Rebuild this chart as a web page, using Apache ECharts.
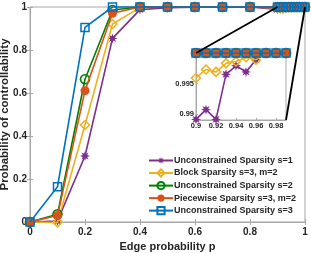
<!DOCTYPE html>
<html><head><meta charset="utf-8">
<script src="https://cdn.jsdelivr.net/npm/echarts@6/dist/echarts.min.js"></script>
<style>html,body{margin:0;padding:0;background:#fff}#c{width:311px;height:253px}</style>
</head><body><div id="c"></div>
<script>
// ---- data ----
const pValues = [0, 0.1, 0.2, 0.3, 0.4, 0.5, 0.6, 0.7, 0.8, 0.9, 0.91, 0.92, 0.93, 0.94, 0.95, 0.96, 0.97, 0.98, 0.99, 1.0];
const unconS1 = [0, 0.005, 0.307, 0.854, 0.988, 0.997, 0.999, 1, 1, 0.9891, 0.9907, 0.9891, 0.9965, 0.9979, 0.9969, 0.9989, 1, 1, 1, 1];
const blockS3 = [0, -0.002, 0.451, 0.921, 0.997, 1, 1, 1, 1, 0.9959, 0.9973, 0.9969, 0.9983, 0.9986, 0.9993, 0.9989, 1, 1, 1, 1];
const unconS2 = [0, 0.036, 0.664, 0.986, 1, 1, 1, 1, 1, 1, 1, 1, 1, 1, 1, 1, 1, 1, 1, 1];
const pieceS3 = [0, 0.03, 0.611, 0.971, 1, 1, 1, 1, 1, 1, 1, 1, 1, 1, 1, 1, 1, 1, 1, 1];
const unconS3 = [0, 0.164, 0.905, 1, 1, 1, 1, 1, 1, 1, 1, 1, 1, 1, 1, 1, 1, 1, 1, 1];
const seriesNames = ['Unconstrained Sparsity s=1', 'Block Sparsity s=3, m=2', 'Unconstrained Sparsity s=2', 'Piecewise Sparsity s=3, m=2', 'Unconstrained Sparsity s=3'];
const mainTicks = [0, 0.2, 0.4, 0.6, 0.8, 1];
const insetXTicks = [0.9, 0.92, 0.94, 0.96, 0.98];
const insetYTicks = [0.99, 0.995];
const insetRange = {xmin: 0.9, xmax: 0.99, ymin: 0.989, ymax: 1};

// ---- style ----
const colors = ['#7E2F8E', '#EDB120', '#008000', '#D95319', '#0072BD'];
function starPath() {
  let d = '';
  for (let k = 0; k < 16; k++) {
    const a = k * Math.PI / 8 - Math.PI / 2;
    const r = k % 2 === 0 ? 10 : 4.8;
    d += (k === 0 ? 'M' : 'L') + (r * Math.cos(a)).toFixed(2) + ',' + (r * Math.sin(a)).toFixed(2);
  }
  return 'path://' + d + 'Z';
}
const symbols = [starPath(), 'diamond', 'circle', 'circle', 'rect'];
const symSizes = [10, 9, 9, 9, 8];
const fills = [colors[0], 'rgba(255,255,255,0)', 'rgba(255,255,255,0)', colors[3], 'rgba(255,255,255,0)'];
const borderW = [0, 1.5, 1.6, 0, 1.5];
const allData = [unconS1, blockS3, unconS2, pieceS3, unconS3];
const font = 'Liberation Sans, Arial, Helvetica, sans-serif';
const axisCol = '#a8a8a8';
const txtCol = '#262626';

function mk(i, xi, yi, inset) {
  const pts = [];
  pValues.forEach((p, j) => {
    if (!inset || (p >= insetRange.xmin - 1e-9 && p <= insetRange.xmax + 1e-9)) pts.push([p, allData[i][j]]);
  });
  return {
    type: 'line', name: inset ? undefined : seriesNames[i], xAxisIndex: xi, yAxisIndex: yi,
    data: pts, symbol: symbols[i], symbolSize: symSizes[i], showSymbol: true,
    clip: inset, z: 2 + i + (inset ? 20 : 0), animation: false,
    lineStyle: {color: colors[i], width: 1.6},
    itemStyle: {color: fills[i], borderColor: colors[i], borderWidth: borderW[i]},
    emphasis: {disabled: true}
  };
}
const series = [];
for (let i = 0; i < 5; i++) series.push(mk(i, 0, 0, false));
for (let i = 0; i < 5; i++) series.push(mk(i, 2, 2, true));

const chart = echarts.init(document.getElementById('c'), null, {renderer: 'canvas'});
const lblMain = {fontFamily: font, fontWeight: 'bold', fontSize: 10, color: txtCol};
const option = {
  animation: false,
  grid: [
    {left: 30, right: 6, top: 7, bottom: 31, show: true, borderColor: axisCol, borderWidth: 1, backgroundColor: '#fff', outerBoundsMode: 'none', containLabel: false},
    {left: 196, top: 53, width: 90, height: 67, show: true, borderColor: axisCol, borderWidth: 1, backgroundColor: '#fff', z: 10, outerBoundsMode: 'none', containLabel: false}
  ],
  xAxis: [
    {gridIndex: 0, type: 'value', min: 0, max: 1, interval: 0.2,
      name: 'Edge probability p', nameLocation: 'middle', nameGap: 19, nameMoveOverlap: false,
      nameTextStyle: {fontFamily: font, fontWeight: 'bold', fontSize: 11, color: txtCol},
      axisLine: {lineStyle: {color: axisCol}}, splitLine: {show: false},
      axisTick: {inside: true, length: 3, lineStyle: {color: axisCol}},
      axisLabel: Object.assign({margin: 5, formatter: v => String(+v.toFixed(2))}, lblMain)},
    {gridIndex: 0, type: 'value', min: 0, max: 1, interval: 0.2, position: 'top',
      axisLine: {show: false}, splitLine: {show: false}, axisLabel: {show: false},
      axisTick: {inside: true, length: 3, lineStyle: {color: axisCol}}},
    {gridIndex: 1, type: 'value', min: insetRange.xmin, max: insetRange.xmax,
      axisLine: {lineStyle: {color: axisCol}}, splitLine: {show: false},
      axisTick: {inside: true, length: 2, customValues: insetXTicks, lineStyle: {color: axisCol}},
      axisLabel: {customValues: insetXTicks, margin: 2, fontFamily: font, fontSize: 7.5, fontWeight: 'bold', color: txtCol,
        formatter: v => String(+v.toFixed(2))}, z: 11}
  ],
  yAxis: [
    {gridIndex: 0, type: 'value', min: 0, max: 1, interval: 0.2,
      name: 'Probability of controllability', nameLocation: 'middle', nameGap: 19, nameMoveOverlap: false,
      nameTextStyle: {fontFamily: font, fontWeight: 'bold', fontSize: 11.5, color: txtCol},
      axisLine: {show: true, lineStyle: {color: axisCol}}, splitLine: {show: false},
      axisTick: {show: true, inside: true, length: 3, lineStyle: {color: axisCol}},
      axisLabel: Object.assign({margin: 3, formatter: v => String(+v.toFixed(2))}, lblMain)},
    {gridIndex: 0, type: 'value', min: 0, max: 1, interval: 0.2, position: 'right',
      axisLine: {show: false}, splitLine: {show: false}, axisLabel: {show: false},
      axisTick: {show: true, inside: true, length: 3, lineStyle: {color: axisCol}}},
    {gridIndex: 1, type: 'value', min: insetRange.ymin, max: insetRange.ymax,
      axisLine: {show: true, lineStyle: {color: axisCol}}, splitLine: {show: false},
      axisTick: {show: true, inside: true, length: 2, customValues: insetYTicks, lineStyle: {color: axisCol}},
      axisLabel: {customValues: insetYTicks, margin: 2, fontFamily: font, fontSize: 7.5, fontWeight: 'bold', color: txtCol,
        formatter: v => String(+v.toFixed(3))}, z: 11}
  ],
  legend: {
    orient: 'vertical', left: 148, top: 156, padding: 0, itemWidth: 24, itemHeight: 9, itemGap: 3.4,
    data: seriesNames, selectedMode: false,
    textStyle: {fontFamily: font, fontWeight: 'bold', fontSize: 9, color: txtCol, padding: [0, 0, 0, -4]}
  },
  series: series
};
chart.setOption(option);

// connector lines from zoom region in main plot to inset corners
const a1 = chart.convertToPixel({xAxisIndex: 0, yAxisIndex: 0}, [insetRange.xmin, insetRange.ymax]);
const b1 = chart.convertToPixel({xAxisIndex: 2, yAxisIndex: 2}, [insetRange.xmin, insetRange.ymax]);
const a2 = chart.convertToPixel({xAxisIndex: 0, yAxisIndex: 0}, [1, insetRange.ymax]);
const b2 = chart.convertToPixel({xAxisIndex: 2, yAxisIndex: 2}, [insetRange.xmax, insetRange.ymin]);
chart.setOption({graphic: [
  {type: 'line', shape: {x1: a1[0], y1: a1[1], x2: b1[0], y2: b1[1]}, style: {stroke: '#000', lineWidth: 1.8}, z: 100},
  {type: 'line', shape: {x1: a2[0], y1: a2[1], x2: b2[0], y2: b2[1]}, style: {stroke: '#000', lineWidth: 1.8}, z: 100}
]});
</script></body></html>
